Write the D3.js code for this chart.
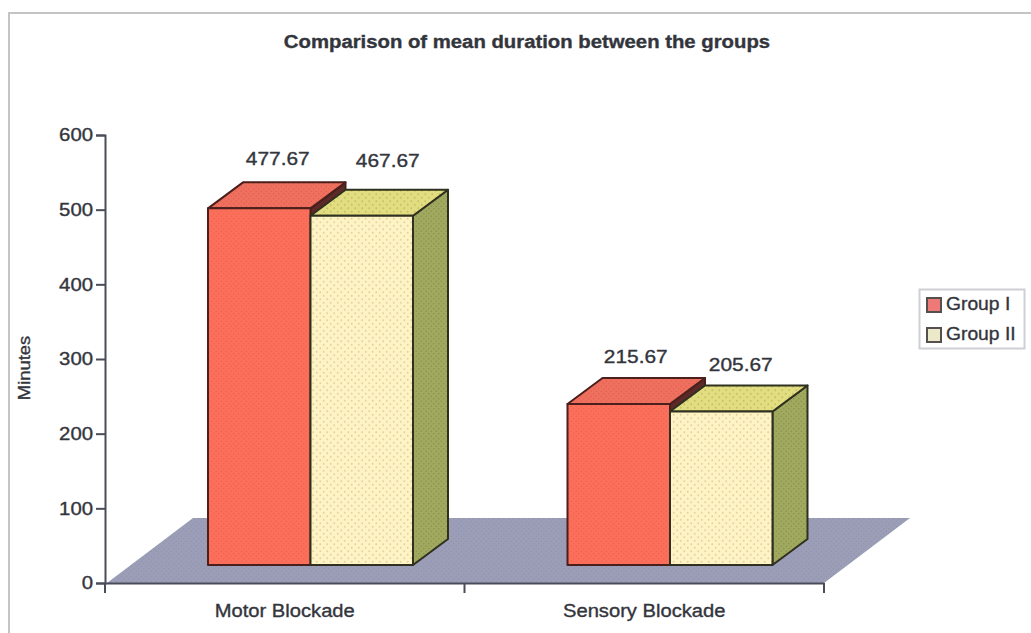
<!DOCTYPE html>
<html>
<head>
<meta charset="utf-8">
<script src="https://cdn.jsdelivr.net/npm/d3@7/dist/d3.min.js"></script>
<style>
html,body{margin:0;padding:0;background:#fff}
svg{display:block}
text{font-family:"Liberation Sans",Arial,sans-serif;fill:#33353c;stroke:#33353c;stroke-width:.35px}
</style>
</head>
<body>
<svg id="chart" width="1031" height="633"></svg>
<script>
// Chart values
const categories = ["Motor Blockade", "Sensory Blockade"];
const seriesNames = ["Group I", "Group II"];
const groupOne = [477.67, 215.67];
const groupTwo = [467.67, 205.67];
const valueTicks = [0, 100, 200, 300, 400, 500, 600];

const svg = d3.select("#chart");
const defs = svg.append("defs");

// Fine dot screens laid over the bar faces
function dotted(id, base, dot, step, r) {
  const p = defs.append("pattern").attr("id", id).attr("patternUnits", "userSpaceOnUse")
    .attr("width", step).attr("height", step);
  p.append("rect").attr("width", step).attr("height", step).attr("fill", base);
  p.append("circle").attr("cx", step / 4).attr("cy", step / 4).attr("r", r).attr("fill", dot);
  p.append("circle").attr("cx", 3 * step / 4).attr("cy", 3 * step / 4).attr("r", r).attr("fill", dot);
}
dotted("redFront", "#fb6f5b", "#ef6350", 5, 0.8);
dotted("redTop", "#f0705f", "#e26050", 5, 0.8);
dotted("redSide", "#5e2a28", "#4e2321", 4, 0.6);
dotted("creamFront", "#fdf3c4", "#e3d296", 7, 0.9);
dotted("creamTop", "#e2dd80", "#c6c064", 7, 0.9);
dotted("creamSide", "#a1a95f", "#86924c", 5, 0.8);
dotted("floorFill", "#9b9eb6", "#9194ad", 5, 0.8);

// Scales
const y = d3.scaleLinear().domain([0, 600]).range([583, 135]);
const x = d3.scaleBand().domain(categories).range([105, 824]);
const barX = d3.scaleBand().domain(seriesNames).range([0, 205]);

// Oblique projection used for the box depth and the floor
const depth = { dx: 35, dy: -26 };
const floorRise = 18;
const barInset = 103;
const floor = { dx: 86, dy: -65 };

const line = d3.line();

// Horizontally widens a label around its anchor
function widen(sel, factor) {
  sel.each(function () {
    this.setAttribute("lengthAdjust", "spacingAndGlyphs");
    this.setAttribute("textLength", this.getComputedTextLength() * factor);
  });
  return sel;
}

// Floor plane
const fx0 = x.range()[0] + 2, fx1 = x.range()[1], fy = y(0);
svg.append("path")
  .attr("d", line([[fx0, fy], [fx1, fy], [fx1 + floor.dx, fy + floor.dy], [fx0 + floor.dx, fy + floor.dy]]) + "Z")
  .attr("fill", "url(#floorFill)");

// Boxes, drawn back-to-front so the second series covers the first one's side
const styles = [
  { front: "url(#redFront)", top: "url(#redTop)", side: "url(#redSide)", ink: "#4a1f1c", values: groupOne },
  { front: "url(#creamFront)", top: "url(#creamTop)", side: "url(#creamSide)", ink: "#2f3020", values: groupTwo }
];
const labelLift = [[43, 41], [49, 40]];
const labelShift = [[18.5, 17], [26, 19.5]];

styles.forEach((s, si) => {
  categories.forEach((c, ci) => {
    const v = s.values[ci];
    const left = x(c) + barInset + barX(seriesNames[si]);
    const right = left + barX.bandwidth();
    const top = y(v) - floorRise;
    const bottom = y(0) - floorRise;
    const g = svg.append("g").attr("stroke", s.ink).attr("stroke-width", 2).attr("stroke-linejoin", "round");
    g.append("path").attr("fill", s.side)
      .attr("d", line([[right, top], [right + depth.dx, top + depth.dy], [right + depth.dx, bottom + depth.dy], [right, bottom]]) + "Z");
    g.append("path").attr("fill", s.top)
      .attr("d", line([[left, top], [left + depth.dx, top + depth.dy], [right + depth.dx, top + depth.dy], [right, top]]) + "Z");
    g.append("rect").attr("x", left).attr("y", top).attr("width", right - left).attr("height", bottom - top).attr("fill", s.front);
    svg.append("text").attr("x", (left + right) / 2 + labelShift[si][ci]).attr("y", top - labelLift[si][ci])
      .attr("text-anchor", "middle").attr("font-size", 18).text(v.toFixed(2)).call(widen, 1.16);
  });
});

// Axes
const axisColor = "#4a4c58";
const yAxis = svg.append("g").attr("transform", "translate(105,0)")
  .call(d3.axisLeft(y).tickValues(valueTicks).tickSize(9).tickPadding(3).tickFormat(d3.format("d")));
const xAxis = svg.append("g").attr("transform", `translate(0,${y(0)})`)
  .call(d3.axisBottom(x).tickValues([]).tickSize(0));
[yAxis, xAxis].forEach(a => {
  a.selectAll("path.domain").attr("stroke", axisColor).attr("stroke-width", 2);
  a.selectAll("line").attr("stroke", axisColor).attr("stroke-width", 2);
});
yAxis.selectAll("text").attr("font-size", 18).attr("font-family", '"Liberation Sans",Arial,sans-serif')
  .attr("fill", "#33353c").call(widen, 1.13);

// Category boundaries below the floor
const catEdges = [x.range()[0], x(categories[1]), x.range()[1]];
svg.append("g").selectAll("line").data(catEdges).join("line")
  .attr("x1", d => d).attr("x2", d => d).attr("y1", y(0)).attr("y2", y(0) + 10)
  .attr("stroke", axisColor).attr("stroke-width", 2);
svg.append("g").selectAll("text").data(categories).join("text")
  .attr("x", d => x(d) + x.bandwidth() / 2).attr("y", 617)
  .attr("text-anchor", "middle").attr("font-size", 18).text(d => d).call(widen, 1.12);

// Titles
svg.append("text").attr("x", 527).attr("y", 48).attr("text-anchor", "middle")
  .attr("font-size", 18).attr("font-weight", "bold")
  .text("Comparison of mean duration between the groups").call(widen, 1.128);
svg.append("text").attr("transform", "translate(30,368) rotate(-90)").attr("text-anchor", "middle")
  .attr("font-size", 16).text("Minutes").call(widen, 1.15);

// Legend
const legend = svg.append("g");
legend.append("rect").attr("x", 919.5).attr("y", 289.5).attr("width", 105).attr("height", 59)
  .attr("fill", "#fff").attr("stroke", "#cfd0d5").attr("stroke-width", 2);
const swatches = ["#ee7a78", "#ece9c8"];
seriesNames.forEach((name, i) => {
  const ly = 298 + i * 30;
  legend.append("rect").attr("x", 927).attr("y", ly).attr("width", 14).attr("height", 14)
    .attr("fill", swatches[i]).attr("stroke", "#55504e").attr("stroke-width", 2);
  legend.append("text").attr("x", 946).attr("y", ly + 12).attr("font-size", 18).text(name).call(widen, 1.07);
});

// Outer frame: top and left rules only
svg.append("path").attr("d", "M1031,13H9V633").attr("fill", "none").attr("stroke", "#c4c4c6").attr("stroke-width", 2);
</script>
</body>
</html>
